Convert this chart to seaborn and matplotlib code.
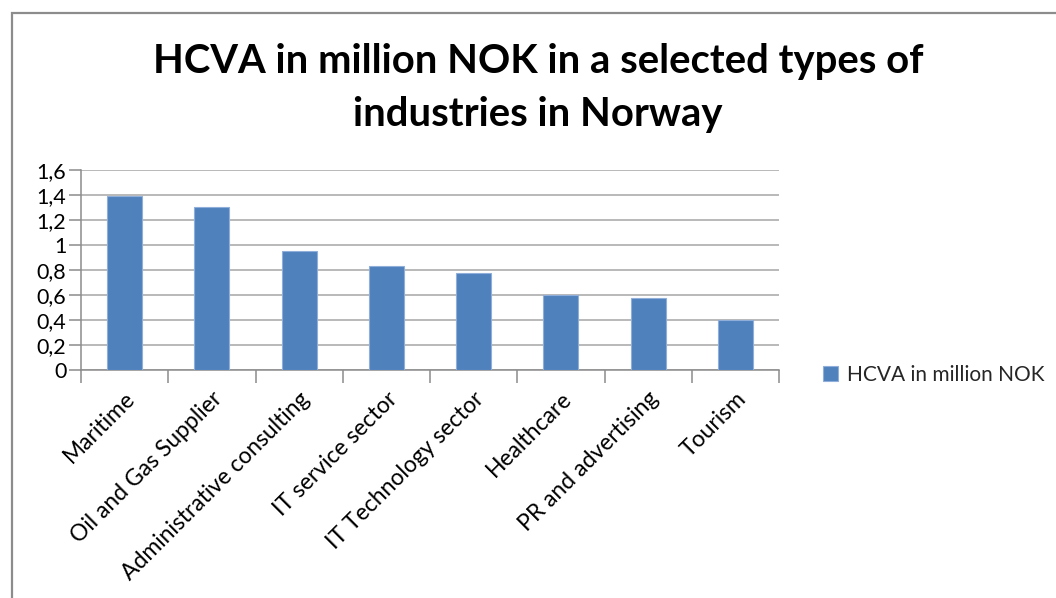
import matplotlib
matplotlib.use("Agg")
import matplotlib.pyplot as plt
import seaborn as sns
import numpy as np
from matplotlib.ticker import FuncFormatter, FixedLocator
from matplotlib.patches import Rectangle

categories = ["Maritime", "Oil and Gas Supplier", "Administrative consulting",
              "IT service sector", "IT Technology sector", "Healthcare",
              "PR and advertising", "Tourism"]
values = [1.39, 1.30, 0.95, 0.83, 0.78, 0.60, 0.58, 0.40]
series_name = "HCVA in million NOK"
title = "HCVA in million NOK in a selected types of\nindustries in Norway"
y_ticks = [0, 0.2, 0.4, 0.6, 0.8, 1.0, 1.2, 1.4, 1.6]

sns.set_style("white")
plt.rcParams['font.family'] = ['Lato', 'DejaVu Sans']

W, H = 1056, 598
fig = plt.figure(figsize=(W / 100, H / 100), dpi=100)

# chart border
fig.patches.append(Rectangle((12 / W, -0.1), 1.2, (H - 13) / H + 0.1,
                             transform=fig.transFigure, fill=False,
                             edgecolor="#8c8c8c", linewidth=1.6))

ax = fig.add_axes([81 / W, 1 - 370 / H, (779 - 81) / W, 200 / H])
sns.barplot(x=categories, y=values, color="#4F81BD", width=0.4, ax=ax,
            label=series_name, edgecolor="#8FAEDA", linewidth=0.8,
            saturation=1, zorder=3)

ax.set_ylim(0, 1.6)
ax.set_xlim(-0.5, len(categories) - 0.5)
ax.yaxis.set_major_locator(FixedLocator(y_ticks))
ax.yaxis.set_major_formatter(FuncFormatter(lambda v, p: f"{v:g}".replace(".", ",")))
ax.grid(axis="y", color="#a6a6a6", linewidth=1.1, zorder=0)
ax.grid(axis="x", visible=False)
for s in ["top", "right"]:
    ax.spines[s].set_visible(False)
for s in ["left", "bottom"]:
    ax.spines[s].set_color("#8c8c8c")
    ax.spines[s].set_linewidth(1.1)

ax.tick_params(axis="y", length=9, width=1.1, color="#8c8c8c", pad=1.5,
               labelsize=15.5, labelcolor="#000000", left=True)
ax.set_xticks(np.arange(len(categories)))
ax.set_xticks(np.arange(len(categories) + 1) - 0.5, minor=True)
ax.tick_params(axis="x", which="major", length=0, pad=13)
ax.tick_params(axis="x", which="minor", length=9, width=1.1, color="#8c8c8c", bottom=True)
ax.set_xticklabels(categories, rotation=45, ha="right", rotation_mode="anchor",
                   fontsize=16.5, color="#000000")
ax.set_xlabel("")
ax.set_ylabel("")

leg = ax.legend(loc="center left", bbox_to_anchor=(815 / W, 1 - 375 / H),
                bbox_transform=fig.transFigure, frameon=False, fontsize=15,
                handlelength=0.7, handleheight=0.7, handletextpad=0.45,
                borderaxespad=0)

fig.text(538 / W, 1 - 88 / H, title, ha="center", va="center",
         fontsize=28.8, fontweight="bold", linespacing=1.55, color="#000000")

fig.savefig("out.png", dpi=100)
